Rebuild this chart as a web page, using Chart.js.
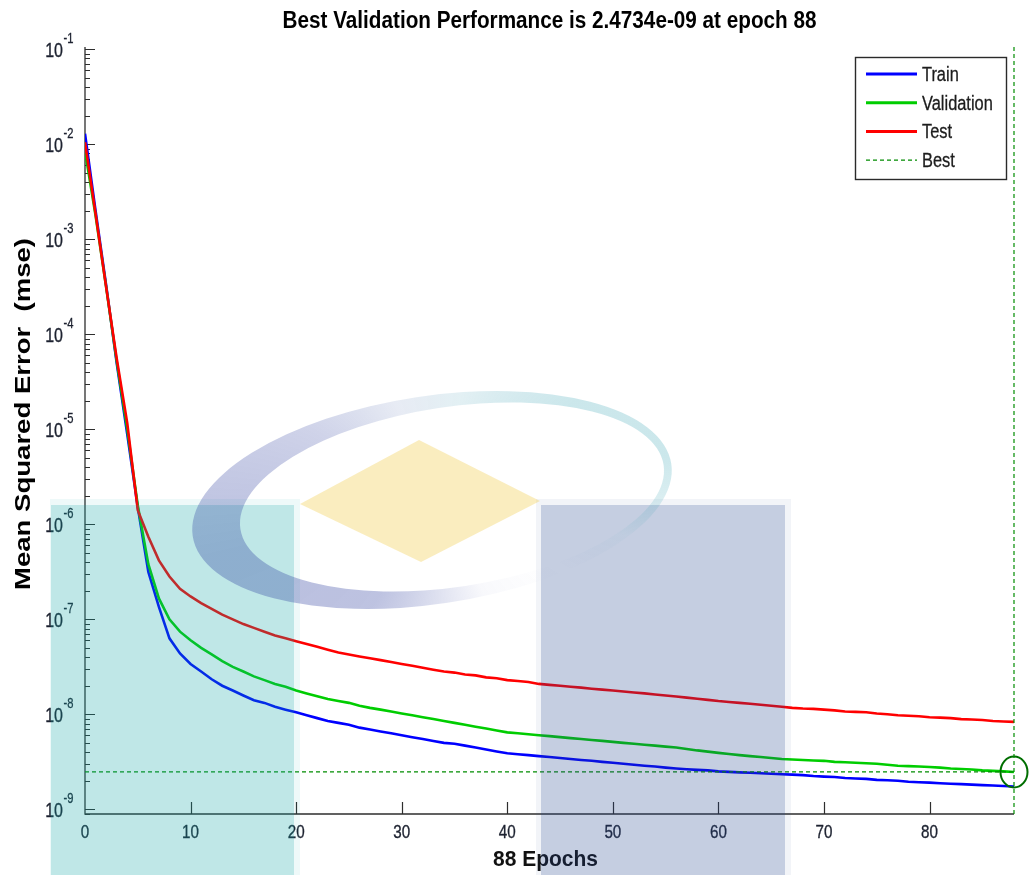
<!DOCTYPE html>
<html>
<head>
<meta charset="utf-8">
<script src="https://cdn.jsdelivr.net/npm/chart.js@4.4.1/dist/chart.umd.min.js"></script>
<style>
  html, body { margin: 0; padding: 0; background: #ffffff; }
  canvas { display: block; }
</style>
</head>
<body>
<canvas id="perf" width="1030" height="875"></canvas>
<script>
// Training record: mean squared error per epoch
const epochs = [
  0, 1, 2, 3, 4, 5, 6, 7, 8, 9, 10, 11, 12, 13, 14, 15, 16, 17, 18, 19,
  20, 21, 22, 23, 24, 25, 26, 27, 28, 29, 30, 31, 32, 33, 34, 35, 36, 37, 38, 39,
  40, 41, 42, 43, 44, 45, 46, 47, 48, 49, 50, 51, 52, 53, 54, 55, 56, 57, 58, 59,
  60, 61, 62, 63, 64, 65, 66, 67, 68, 69, 70, 71, 72, 73, 74, 75, 76, 77, 78, 79,
  80, 81, 82, 83, 84, 85, 86, 87, 88
];

const trainMse = [
  1.29e-2, 2.00e-3, 3.31e-4, 5.01e-5, 8.91e-6, 1.51e-6, 3.16e-7, 1.35e-7, 6.31e-8, 4.37e-8,
  3.39e-8, 2.82e-8, 2.34e-8, 2.00e-8, 1.78e-8, 1.58e-8, 1.41e-8, 1.32e-8, 1.20e-8, 1.12e-8,
  1.05e-8, 9.77e-9, 9.12e-9, 8.51e-9, 8.13e-9, 7.76e-9, 7.24e-9, 6.92e-9, 6.61e-9, 6.31e-9,
  6.03e-9, 5.75e-9, 5.50e-9, 5.25e-9, 5.01e-9, 4.90e-9, 4.68e-9, 4.47e-9, 4.27e-9, 4.07e-9,
  3.89e-9, 3.80e-9, 3.72e-9, 3.63e-9, 3.55e-9, 3.47e-9, 3.39e-9, 3.31e-9, 3.24e-9, 3.16e-9,
  3.09e-9, 3.02e-9, 2.95e-9, 2.88e-9, 2.82e-9, 2.75e-9, 2.69e-9, 2.64e-9, 2.60e-9, 2.57e-9,
  2.51e-9, 2.48e-9, 2.45e-9, 2.43e-9, 2.40e-9, 2.37e-9, 2.34e-9, 2.32e-9, 2.29e-9, 2.24e-9,
  2.21e-9, 2.19e-9, 2.14e-9, 2.11e-9, 2.09e-9, 2.04e-9, 2.02e-9, 2.00e-9, 1.95e-9, 1.93e-9,
  1.91e-9, 1.88e-9, 1.86e-9, 1.84e-9, 1.82e-9, 1.80e-9, 1.78e-9, 1.76e-9, 1.74e-9
];

const validationMse = [
  8.50e-3, 1.78e-3, 3.16e-4, 5.25e-5, 1.00e-5, 1.58e-6, 3.80e-7, 1.66e-7, 1.00e-7, 7.41e-8,
  6.03e-8, 5.01e-8, 4.27e-8, 3.63e-8, 3.16e-8, 2.82e-8, 2.51e-8, 2.29e-8, 2.09e-8, 1.95e-8,
  1.78e-8, 1.66e-8, 1.55e-8, 1.45e-8, 1.38e-8, 1.32e-8, 1.23e-8, 1.17e-8, 1.12e-8, 1.07e-8,
  1.02e-8, 9.77e-9, 9.33e-9, 8.91e-9, 8.51e-9, 8.13e-9, 7.76e-9, 7.41e-9, 7.08e-9, 6.76e-9,
  6.46e-9, 6.31e-9, 6.17e-9, 6.03e-9, 5.89e-9, 5.75e-9, 5.62e-9, 5.50e-9, 5.37e-9, 5.25e-9,
  5.13e-9, 5.01e-9, 4.90e-9, 4.79e-9, 4.68e-9, 4.57e-9, 4.47e-9, 4.32e-9, 4.17e-9, 4.05e-9,
  3.93e-9, 3.82e-9, 3.72e-9, 3.63e-9, 3.55e-9, 3.47e-9, 3.39e-9, 3.35e-9, 3.31e-9, 3.27e-9,
  3.24e-9, 3.16e-9, 3.13e-9, 3.09e-9, 3.05e-9, 3.02e-9, 2.95e-9, 2.88e-9, 2.85e-9, 2.82e-9,
  2.79e-9, 2.75e-9, 2.69e-9, 2.66e-9, 2.63e-9, 2.57e-9, 2.54e-9, 2.51e-9, 2.4734e-9
];

const testMse = [
  1.05e-2, 1.86e-3, 3.16e-4, 5.62e-5, 1.17e-5, 1.41e-6, 7.41e-7, 4.17e-7, 2.82e-7, 2.09e-7,
  1.74e-7, 1.48e-7, 1.29e-7, 1.12e-7, 1.00e-7, 8.91e-8, 8.13e-8, 7.41e-8, 6.76e-8, 6.31e-8,
  5.89e-8, 5.50e-8, 5.13e-8, 4.79e-8, 4.47e-8, 4.27e-8, 4.07e-8, 3.89e-8, 3.72e-8, 3.55e-8,
  3.39e-8, 3.24e-8, 3.09e-8, 2.95e-8, 2.82e-8, 2.75e-8, 2.63e-8, 2.57e-8, 2.45e-8, 2.40e-8,
  2.29e-8, 2.24e-8, 2.19e-8, 2.09e-8, 2.04e-8, 2.00e-8, 1.95e-8, 1.91e-8, 1.86e-8, 1.82e-8,
  1.78e-8, 1.74e-8, 1.70e-8, 1.66e-8, 1.62e-8, 1.58e-8, 1.54e-8, 1.50e-8, 1.46e-8, 1.42e-8,
  1.38e-8, 1.35e-8, 1.32e-8, 1.29e-8, 1.26e-8, 1.23e-8, 1.20e-8, 1.17e-8, 1.15e-8, 1.14e-8,
  1.12e-8, 1.10e-8, 1.07e-8, 1.06e-8, 1.05e-8, 1.02e-8, 1.00e-8, 9.77e-9, 9.66e-9, 9.55e-9,
  9.33e-9, 9.23e-9, 9.12e-9, 8.91e-9, 8.81e-9, 8.71e-9, 8.51e-9, 8.41e-9, 8.32e-9
];

const bestEpoch = 88;
const bestPerf = 2.4734e-9;

// Axis ranges and tick labels
const xRange = [0, 88];
const yRange = [8.93e-10, 0.1057];
const xTicks = [0, 10, 20, 30, 40, 50, 60, 70, 80];
const yDecadeExponents = [-1, -2, -3, -4, -5, -6, -7, -8, -9];
const legendOrder = ['Train', 'Validation', 'Test', 'Best'];

const titleText = 'Best Validation Performance is ' + bestPerf.toExponential(4).replace('e-9', 'e-09') + ' at epoch ' + bestEpoch;
const xTitle = bestEpoch + ' Epochs';
const yTitle = 'Mean Squared Error  (mse)';

const FONT = '"Liberation Sans", Arial, Helvetica, sans-serif';
const AXIS_COLOR = '#2e2e2e';
const TICK_TEXT = '#1d2230';
const BEST_GREEN = 'rgb(0,140,0)';

function pairs(values) {
  return epochs.map((e, i) => ({ x: e, y: values[i] }));
}

// Text helper: optional horizontal squeeze (fit to width) and rotation
function drawText(ctx, text, x, y, font, color, align, opts) {
  opts = opts || {};
  ctx.save();
  ctx.font = font;
  ctx.fillStyle = color;
  ctx.textBaseline = 'alphabetic';
  ctx.textAlign = align;
  const w = ctx.measureText(text).width;
  const sx = opts.width ? opts.width / w : (opts.sx || 1);
  ctx.translate(x, y);
  if (opts.rotate) ctx.rotate(opts.rotate);
  ctx.scale(sx, opts.sy || 1);
  ctx.fillText(text, 0, 0);
  if (opts.heavy) {
    ctx.strokeStyle = color;
    ctx.lineWidth = opts.heavy;
    ctx.strokeText(text, 0, 0);
  }
  ctx.restore();
}

// Ring marker for the best epoch
const bestRing = document.createElement('canvas');
bestRing.width = 32; bestRing.height = 36;
(function () {
  const c = bestRing.getContext('2d');
  c.strokeStyle = 'rgb(0,110,0)';
  c.lineWidth = 2;
  c.beginPath();
  c.ellipse(16, 18, 13.5, 15.5, 0, 0, Math.PI * 2);
  c.stroke();
})();

// Axes drawn MATLAB style: left and bottom lines, inward ticks
const axesPlugin = {
  id: 'matlabAxes',
  beforeDatasetsDraw(chart) {
    const { ctx, chartArea: a, scales: { x, y } } = chart;
    ctx.save();
    ctx.strokeStyle = AXIS_COLOR;
    ctx.lineWidth = 1.3;
    ctx.beginPath();
    ctx.moveTo(a.left, a.top);
    ctx.lineTo(a.left, a.bottom);
    ctx.lineTo(a.right, a.bottom);
    ctx.stroke();

    ctx.lineWidth = 1.2;
    ctx.beginPath();
    yDecadeExponents.forEach(k => {
      const py = Math.round(y.getPixelForValue(Math.pow(10, k))) + 0.5;
      ctx.moveTo(a.left, py); ctx.lineTo(a.left + 10, py);
    });
    for (let k = -10; k <= -2; k++) {
      for (let m = 2; m <= 9; m++) {
        const v = m * Math.pow(10, k);
        if (v <= yRange[0] || v >= yRange[1]) continue;
        const py = Math.round(y.getPixelForValue(v)) + 0.5;
        ctx.moveTo(a.left, py); ctx.lineTo(a.left + 5, py);
      }
    }
    xTicks.forEach(t => {
      if (t === 0) return;
      const px = Math.round(x.getPixelForValue(t)) + 0.5;
      ctx.moveTo(px, a.bottom); ctx.lineTo(px, a.bottom - 12);
    });
    ctx.stroke();
    ctx.restore();
  },
  afterDatasetsDraw(chart) {
    const { ctx, chartArea: a, scales: { x, y } } = chart;
    // tick labels
    xTicks.forEach(t => {
      drawText(ctx, String(t), x.getPixelForValue(t), a.bottom + 24, '19px ' + FONT, TICK_TEXT, 'center', { sx: 0.8, heavy: 0.35 });
    });
    yDecadeExponents.forEach(k => {
      const py = y.getPixelForValue(Math.pow(10, k));
      drawText(ctx, '10', 63, py + 8, '20px ' + FONT, TICK_TEXT, 'right', { sx: 0.8, heavy: 0.35 });
      drawText(ctx, String(k), 63.5, py - 6, '14px ' + FONT, TICK_TEXT, 'left', { sx: 0.8, heavy: 0.3 });
    });
    // titles
    drawText(ctx, titleText, (a.left + a.right) / 2, 28, 'bold 23px ' + FONT, '#000', 'center', { width: 534 });
    drawText(ctx, xTitle, 545.5, 866, 'bold 22px ' + FONT, '#111', 'center', { width: 105 });
    drawText(ctx, yTitle, 30, 414, 'bold 22px ' + FONT, '#000', 'center', { rotate: -Math.PI / 2, width: 352 });

    // legend box
    const entries = legendOrder.map(name => chart.data.datasets.find(d => d.label === name));
    const box = { l: 855, t: 57, r: 1006, b: 179 };
    ctx.save();
    ctx.fillStyle = '#fff';
    ctx.fillRect(box.l, box.t, box.r - box.l, box.b - box.t);
    ctx.strokeStyle = '#2a2a2a';
    ctx.lineWidth = 1.4;
    ctx.strokeRect(box.l + 0.5, box.t + 0.5, box.r - box.l, box.b - box.t);
    entries.forEach((d, i) => {
      const ry = 74 + i * 28.7;
      ctx.save();
      ctx.strokeStyle = d.borderColor;
      ctx.lineWidth = d.borderDash ? 1.4 : 3;
      ctx.setLineDash(d.borderDash || []);
      ctx.beginPath();
      ctx.moveTo(866, ry); ctx.lineTo(917, ry);
      ctx.stroke();
      ctx.restore();
      drawText(ctx, d.label, 922, ry + 7, '20px ' + FONT, '#1c1c1c', 'left', { sx: 0.82, heavy: 0.3 });
    });
    ctx.restore();
  }
};

// Faint background emblem layered over the figure
const emblemPlugin = {
  id: 'emblem',
  afterDraw(chart) {
    const ctx = chart.ctx;
    ctx.save();
    // teal panel
    ctx.fillStyle = 'rgba(19,163,163,0.07)';
    ctx.fillRect(50, 499, 250, 376);
    ctx.fillStyle = 'rgba(19,163,163,0.21)';
    ctx.fillRect(51, 505, 243, 370);
    // slate panel
    ctx.fillStyle = 'rgba(35,67,139,0.06)';
    ctx.fillRect(536, 499, 255, 376);
    ctx.fillStyle = 'rgba(35,67,139,0.22)';
    ctx.fillRect(541, 505, 244, 370);

    // swoosh ring
    const cx = 440, cy = 500;
    let grad;
    if (ctx.createConicGradient) {
      grad = ctx.createConicGradient(0, cx, cy);
      grad.addColorStop(0.00, 'rgba(55,163,179,0.18)');
      grad.addColorStop(0.03, 'rgba(55,163,179,0.04)');
      grad.addColorStop(0.08, 'rgba(38,55,155,0.00)');
      grad.addColorStop(0.18, 'rgba(38,55,155,0.03)');
      grad.addColorStop(0.26, 'rgba(38,55,155,0.16)');
      grad.addColorStop(0.34, 'rgba(38,55,155,0.30)');
      grad.addColorStop(0.46, 'rgba(38,55,155,0.32)');
      grad.addColorStop(0.58, 'rgba(38,55,155,0.22)');
      grad.addColorStop(0.68, 'rgba(60,90,165,0.12)');
      grad.addColorStop(0.78, 'rgba(55,150,175,0.14)');
      grad.addColorStop(0.90, 'rgba(55,163,179,0.26)');
      grad.addColorStop(0.97, 'rgba(55,163,179,0.26)');
      grad.addColorStop(1.00, 'rgba(55,163,179,0.18)');
    } else {
      grad = 'rgba(38,55,155,0.22)';
    }
    ctx.beginPath();
    ctx.ellipse(432, 500, 242, 104, -0.15, 0, Math.PI * 2, false);
    ctx.ellipse(452, 497, 214, 90, -0.15, 0, Math.PI * 2, true);
    ctx.fillStyle = grad;
    ctx.fill('evenodd');

    // pale yellow diamond
    ctx.beginPath();
    ctx.moveTo(419, 440);
    ctx.lineTo(540, 501);
    ctx.lineTo(421, 562);
    ctx.lineTo(300, 504);
    ctx.closePath();
    ctx.fillStyle = 'rgba(240,200,60,0.33)';
    ctx.fill();
    ctx.restore();
  }
};

new Chart(document.getElementById('perf'), {
  type: 'line',
  data: {
    datasets: [
      {
        label: 'Best', data: [{ x: xRange[0], y: bestPerf }, { x: bestEpoch, y: bestPerf }],
        borderColor: BEST_GREEN, borderWidth: 1.2, borderDash: [4, 3], pointRadius: 0, order: 0, clip: false
      },
      {
        label: 'Best epoch', data: [{ x: bestEpoch, y: yRange[0] }, { x: bestEpoch, y: yRange[1] }],
        borderColor: BEST_GREEN, borderWidth: 1.2, borderDash: [4, 3], pointRadius: 0, order: 0, clip: false
      },
      {
        label: 'Best point', data: [{ x: bestEpoch, y: bestPerf }], showLine: false,
        pointStyle: bestRing, pointRadius: 14, order: 0, clip: false
      },
      { label: 'Test', data: pairs(testMse), borderColor: 'rgb(255,0,0)', borderWidth: 2.6, pointRadius: 0, order: 1 },
      { label: 'Validation', data: pairs(validationMse), borderColor: 'rgb(0,205,0)', borderWidth: 2.6, pointRadius: 0, order: 2 },
      { label: 'Train', data: pairs(trainMse), borderColor: 'rgb(0,0,255)', borderWidth: 2.6, pointRadius: 0, order: 3 }
    ]
  },
  options: {
    responsive: false,
    animation: false,
    devicePixelRatio: 1,
    layout: { padding: { left: 85, right: 16, top: 47, bottom: 61 } },
    elements: { line: { tension: 0 } },
    plugins: { legend: { display: false }, title: { display: false }, tooltip: { enabled: false } },
    scales: {
      x: { type: 'linear', min: xRange[0], max: xRange[1], display: false },
      y: { type: 'logarithmic', min: yRange[0], max: yRange[1], display: false }
    }
  },
  plugins: [axesPlugin, emblemPlugin]
});
</script>
</body>
</html>
